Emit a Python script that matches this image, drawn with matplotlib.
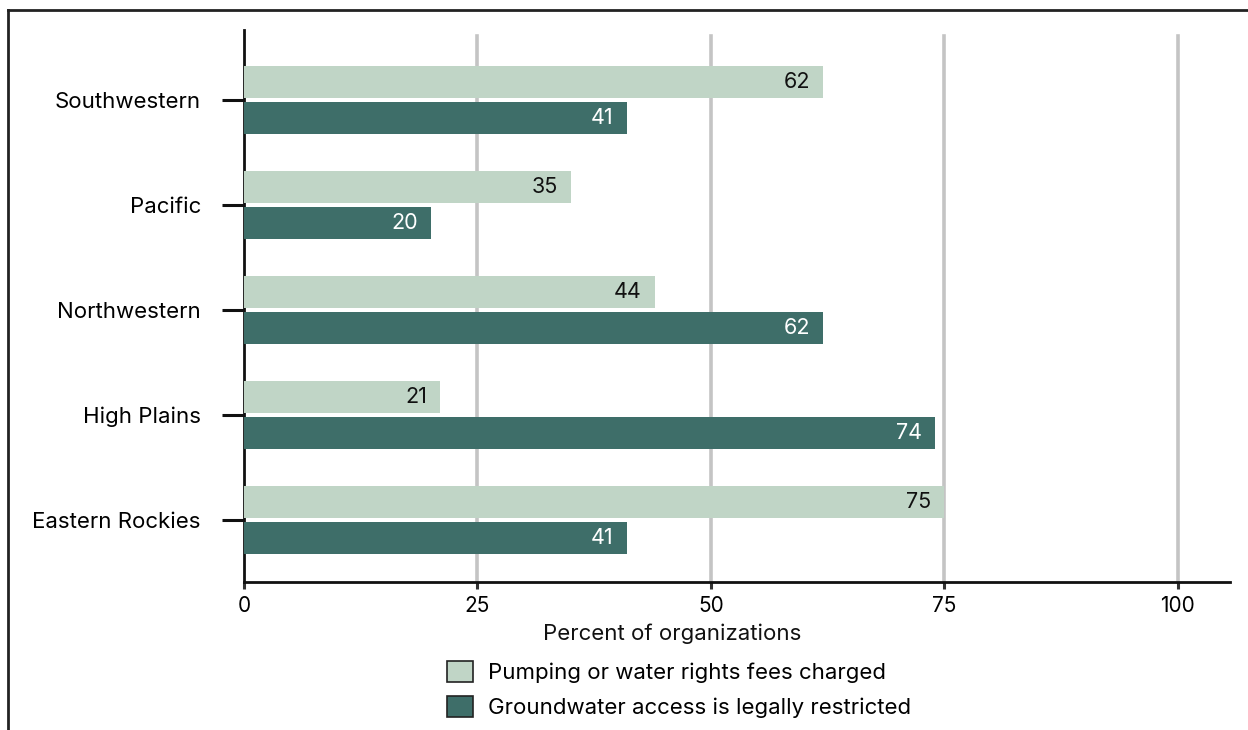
import matplotlib
matplotlib.use("Agg")
import matplotlib.pyplot as plt
from matplotlib.patches import Patch
from matplotlib.lines import Line2D
import numpy as np

plt.rcParams['font.family'] = ['Inter', 'DejaVu Sans']

regions = ['Southwestern', 'Pacific', 'Northwestern', 'High Plains', 'Eastern Rockies']
fees_charged = [62, 35, 44, 21, 75]
legally_restricted = [41, 20, 62, 74, 41]
x_ticks = [0, 25, 50, 75, 100]
series_labels = ['Pumping or water rights fees charged',
                 'Groundwater access is legally restricted']

light = '#c0d5c6'
dark = '#3e6e69'

fig = plt.figure(figsize=(12.48, 7.30), dpi=100)
ax = fig.add_axes([244 / 1248, 1 - 582 / 730, (1230 - 244) / 1248, (582 - 30) / 730])

# categories run top to bottom
y = np.arange(len(regions))[::-1]
h = 0.305
off = 0.172

ax.barh(y + off, fees_charged, height=h, color=light, zorder=3)
ax.barh(y - off, legally_restricted, height=h, color=dark, zorder=3)

for yi, v in zip(y, fees_charged):
    ax.annotate(str(v), (v, yi + off), xytext=(-13, 0), textcoords='offset pixels',
                ha='right', va='center', fontsize=15.5, color='#111111', zorder=4)
for yi, v in zip(y, legally_restricted):
    ax.annotate(str(v), (v, yi - off), xytext=(-13, 0), textcoords='offset pixels',
                ha='right', va='center', fontsize=15.5, color='white', zorder=4)

ax.set_xlim(0, 105.6)
ax.set_ylim(-0.59, 4.667)

ax.set_xticks(x_ticks)
ax.set_xticklabels([str(t) for t in x_ticks], fontsize=15)
ax.set_yticks(y)
ax.set_yticklabels(regions, fontsize=16)

for t in x_ticks[1:]:
    ax.plot([t, t], [-0.59, 4.61], color='#c4c4c4', lw=2.6, zorder=1, clip_on=False)

for side in ['top', 'right']:
    ax.spines[side].set_visible(False)
ax.spines['left'].set_linewidth(2)
ax.spines['bottom'].set_linewidth(2)
ax.spines['left'].set_color('#111111')
ax.spines['bottom'].set_color('#111111')

ax.tick_params(axis='y', length=16, width=2.2, color='#111111', pad=15)
ax.tick_params(axis='x', length=5, width=2.2, color='#333333', pad=5)

fig.text(672 / 1248, 1 - 634 / 730, 'Percent of organizations', ha='center', va='center',
         fontsize=16, color='#111111')

handles = [Patch(facecolor=light, edgecolor='#222222', linewidth=1.2),
           Patch(facecolor=dark, edgecolor='#222222', linewidth=1.2)]
fig.legend(handles, series_labels, loc='upper left',
           bbox_to_anchor=(431 / 1248, 1 - 645 / 730), frameon=False, fontsize=16,
           handlelength=1.18, handleheight=1.1, handletextpad=0.68, labelspacing=0.58,
           borderpad=0.2)

# border lines on left and top of the figure
fig.add_artist(Line2D([8 / 1248, 8 / 1248], [0, 1 - 10 / 730], transform=fig.transFigure,
                      color='#222222', lw=2))
fig.add_artist(Line2D([8 / 1248, 1], [1 - 10 / 730, 1 - 10 / 730], transform=fig.transFigure,
                      color='#222222', lw=2))

fig.savefig('out.png', dpi=100)
